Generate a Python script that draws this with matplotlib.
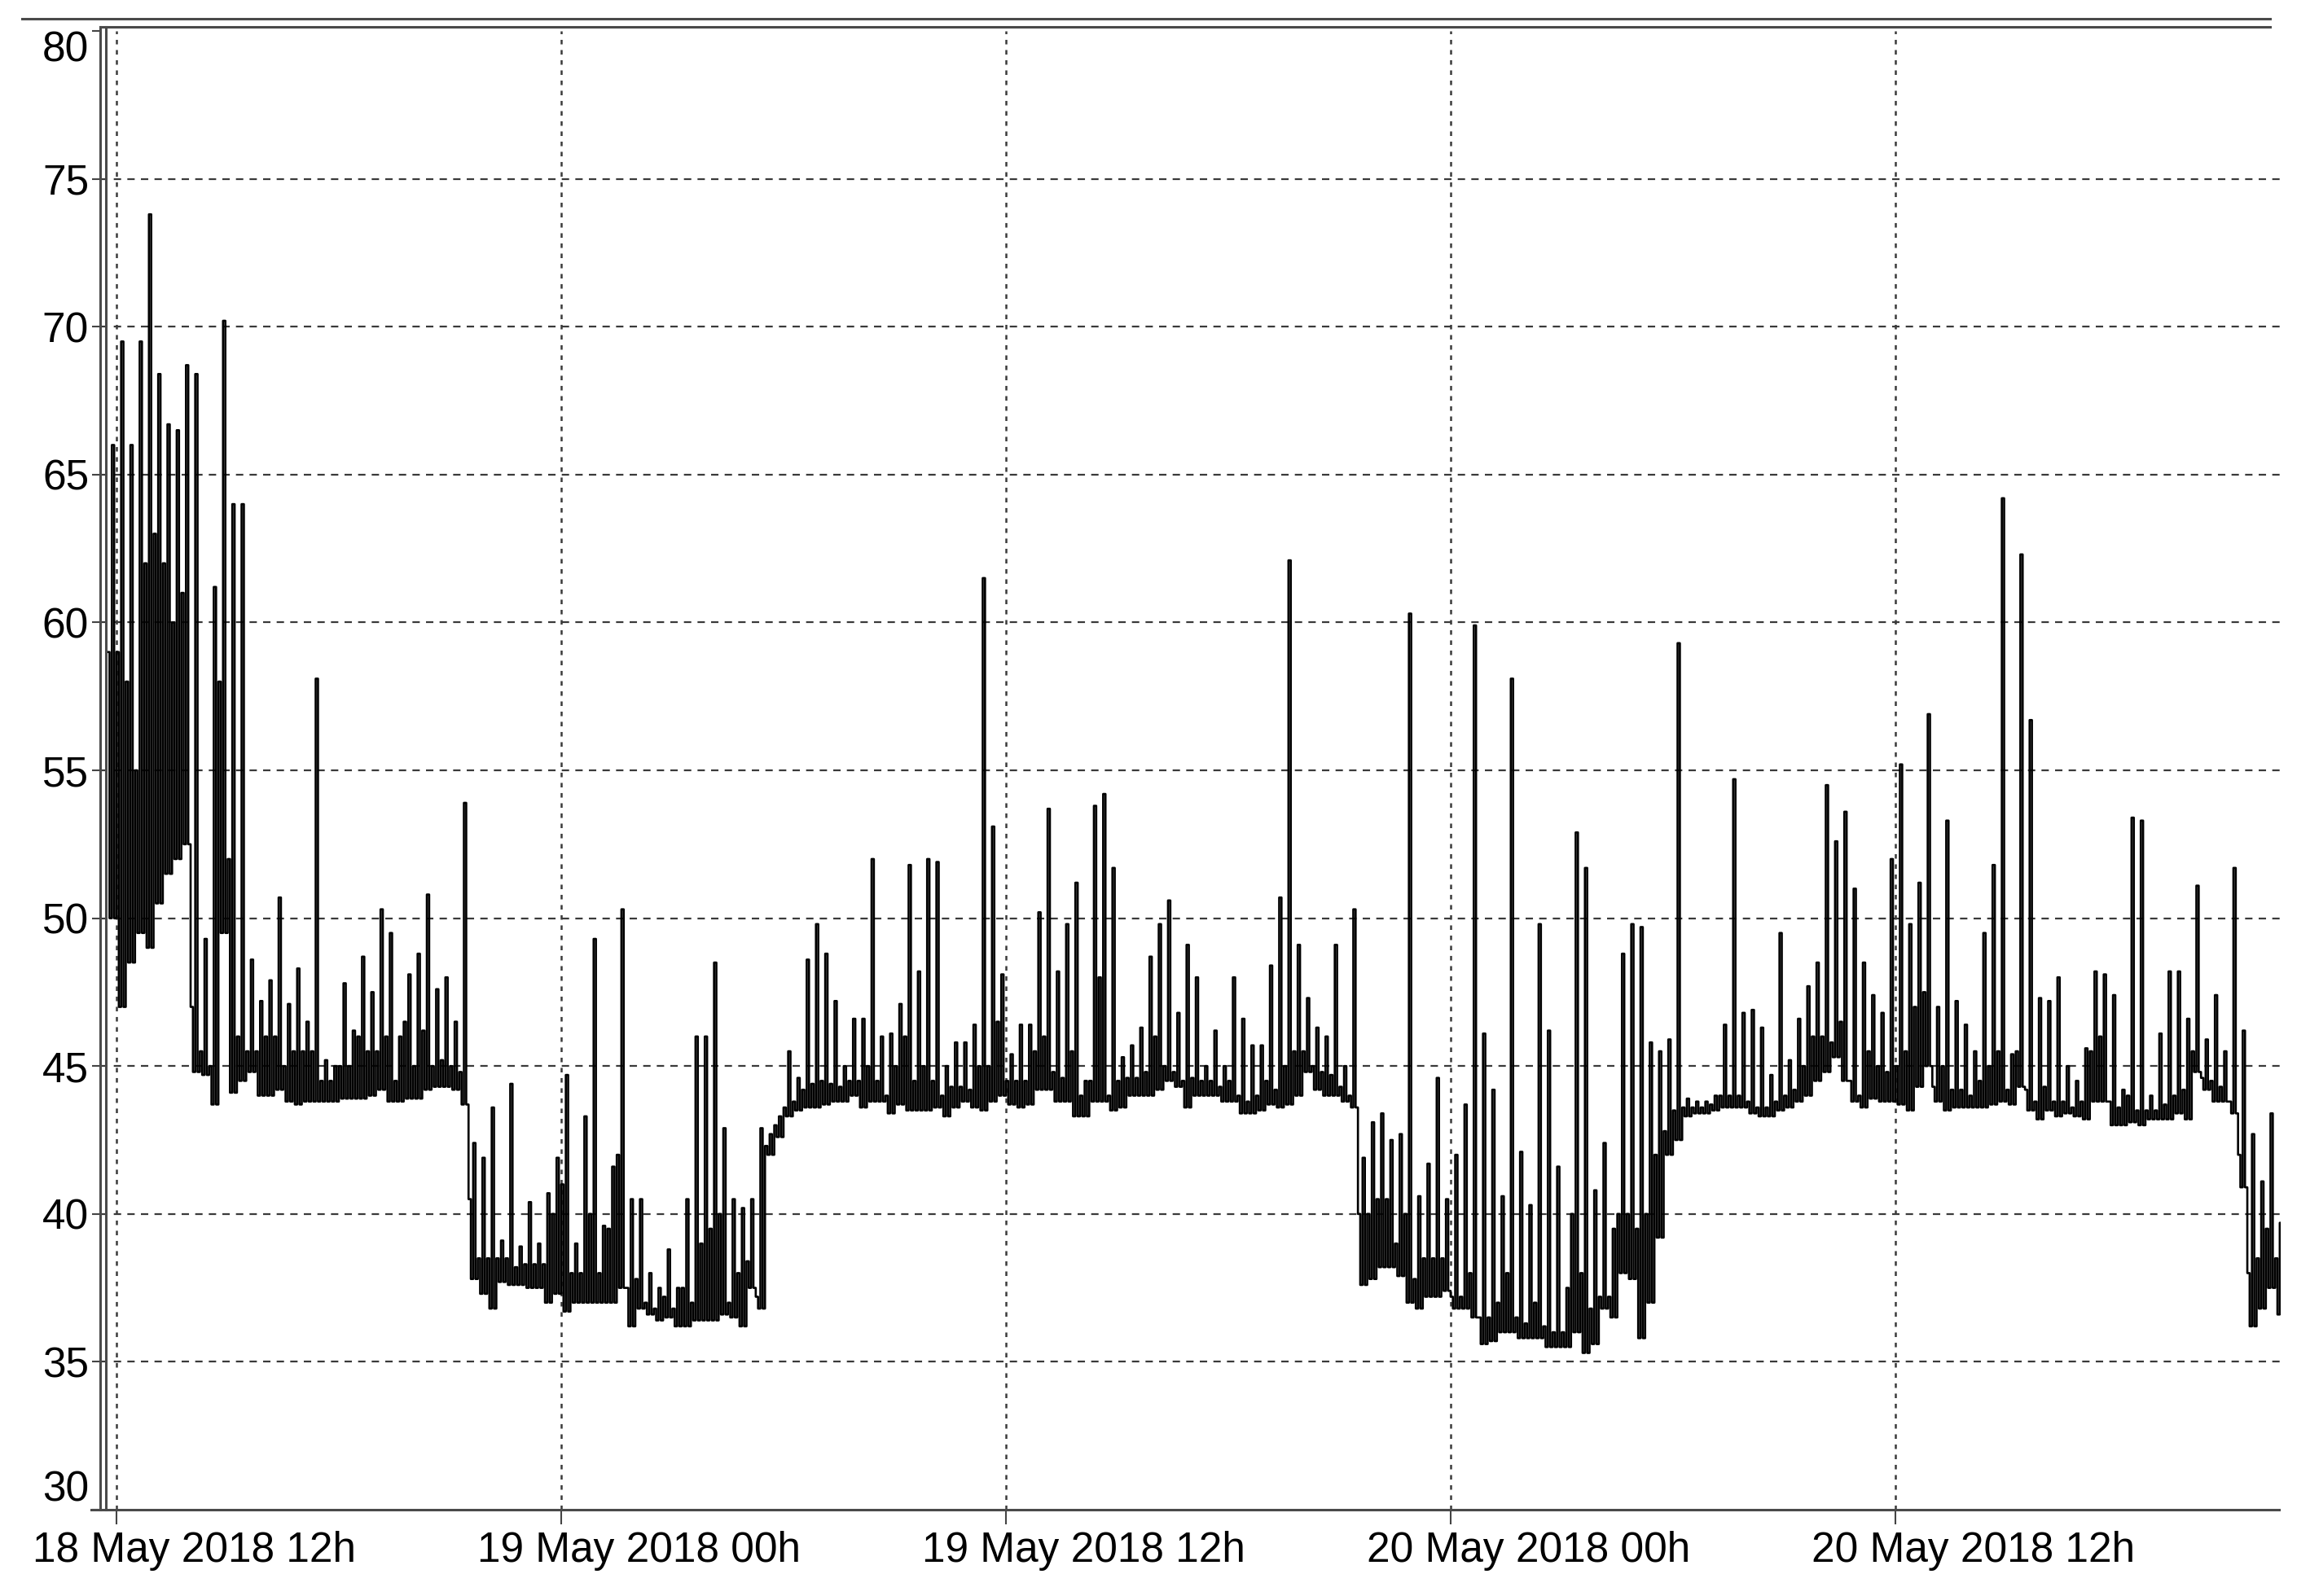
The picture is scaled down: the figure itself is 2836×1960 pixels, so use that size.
import numpy as np
import matplotlib
matplotlib.use("Agg")
import matplotlib.pyplot as plt
import matplotlib.transforms as mtransforms
from matplotlib.lines import Line2D

# ---------------------------------------------
# data: sound level, per 15 min bin
# time = hours after 18 May 2018 00:00, first bin starts 11:45
# each bin keeps the lower edge, the dense band level and the peak
# ---------------------------------------------
first_bin_hour = 11.75
bin_hours = 0.25

low_level = [
    50, 47, 48.5, 49.5, 49, 50.5, 51.5, 52, 52.5,
    44.8, 44.7, 43.7, 49.5, 44.1, 44.5, 44.8, 44, 44, 44.2, 43.8, 43.7,
    43.8, 43.8, 43.8, 43.8, 43.9, 43.9, 43.9, 44, 44.2, 43.8, 43.8, 43.9,
    43.9, 44.2, 44.3, 44.3, 44.2, 43.7, 37.8, 37.3,
    36.8, 37.7, 37.6, 37.6, 37.5, 37.5, 37, 37.3,
    36.7, 37, 37, 37, 37, 37, 37.5, 36.2, 36.8, 36.6, 36.4, 36.5,
    36.2, 36.2, 36.4, 36.4, 36.4, 36.6, 36.5, 36.2, 37.5, 36.8, 42, 42.6,
    43.3, 43.5, 43.6, 43.6, 43.7, 43.8, 43.8, 44,
    43.6, 43.8, 43.8, 43.4, 43.7, 43.5, 43.5, 43.5, 43.6, 43.3, 43.6, 43.8,
    43.6, 43.5, 43.8, 44, 43.7, 43.6, 43.7, 44.2, 44.2, 43.8, 43.8, 43.3,
    43.3, 43.8, 43.8, 43.5, 43.6, 44, 44, 44, 44.2, 44.5, 44.3, 43.6,
    44, 44, 44, 43.8, 43.8, 43.4, 43.4, 43.5,
    43.7, 43.6, 43.7, 44, 44.8, 44.2, 44, 44, 43.8, 43.6, 37.6, 37.8,
    38.2, 38.2, 37.9, 37, 36.8, 37.2, 37.2, 37.4,
    36.8, 36.8, 36.5, 35.6, 35.7, 36, 36, 35.8, 35.8, 35.8, 35.5, 35.5,
    35.5, 36, 35.3, 35.6, 36.8, 36.5, 38, 37.8, 35.8, 37, 39.2, 42,
    42.5, 43.3, 43.4, 43.4, 43.5, 43.6, 43.6, 43.6,
    43.4, 43.3, 43.3, 43.5, 43.6, 43.8, 44, 44.5, 44.8, 45.3, 44.5, 43.8,
    43.6, 43.9, 43.8, 43.8, 43.7, 43.5, 44.3, 45, 43.8, 43.5, 43.6, 43.6,
    43.6, 43.6, 43.7, 43.8, 43.7, 44.3, 43.5, 43.2,
    43.5, 43.3, 43.4, 43.3, 43.2, 43.8, 43.8, 43, 43, 43.1, 43, 43.2,
    43.2, 43.2, 43.4, 43.2, 44.8, 44.2, 43.8, 43.8, 43.4, 40.9, 36.2, 36.8,
    37.5, 36.6,
]

band_level = [
    59, 59, 58, 55, 62, 63, 62, 60, 61,
    47, 45.5, 45, 58, 52, 46, 45.5, 45.5, 46, 46, 45, 45.5,
    45.5, 45.5, 44.5, 44.5, 45, 45, 46, 45.5, 45.5, 46, 44.5, 46.5,
    45, 46.2, 45, 45.2, 45, 44.8, 40.5, 38.5,
    38.5, 38.5, 38.5, 38.2, 38.3, 38.3, 38.3, 40,
    41, 38, 38, 40, 38, 39.5, 42, 37.5, 37.8, 37, 36.8, 37.2,
    36.8, 37.5, 37, 39, 39.5, 40, 37, 38, 38.4, 37.2, 42.3, 43,
    43.6, 43.8, 44.2, 44.4, 44.5, 44.4, 44.3, 44.5,
    44.5, 45, 44.5, 44, 45, 46, 44.5, 45, 44.5, 44, 44.3, 44.3,
    44.2, 45, 45, 46.5, 44.5, 44.5, 44.5, 45.5, 46, 44.8, 44.6, 45.5,
    44, 44.5, 48, 44, 44.5, 44.6, 44.6, 44.8, 46, 45, 44.8, 44.5,
    44.6, 44.5, 44.5, 44.3, 44.5, 44, 43.8, 44,
    44.5, 44.2, 45, 45.5, 45.5, 45, 44.8, 44.7, 44.3, 44, 40, 40,
    40.5, 40.5, 39, 40, 37.8, 38.5, 38.5, 38.5,
    37.2, 37.2, 38, 36.5, 36.5, 37, 38, 36.5, 36.3, 37, 36.2, 36,
    36, 40, 38, 36.8, 37.2, 37.2, 40, 40, 39.5, 40, 42, 42.8,
    43.5, 43.6, 43.6, 43.6, 43.7, 44, 44, 44,
    43.8, 43.6, 43.6, 43.8, 44, 44.2, 45, 46, 46, 45.8, 46.5, 44.5,
    44, 45.5, 45, 44.8, 45, 45.5, 47, 47.5, 44.3, 45, 44.2, 44.2,
    44, 44.5, 45, 45.5, 44.2, 45.5, 44.2, 43.8,
    44.3, 43.8, 43.8, 43.6, 43.8, 45.5, 46, 43.8, 43.6, 44, 43.5, 43.5,
    43.5, 43.7, 44, 44.2, 45.5, 44.6, 44.5, 44.3, 43.8, 42, 38, 38.5,
    39.5, 38.5,
]

peak_level = [
    66, 69.5, 66, 69.5, 73.8, 68.4, 66.7, 66.5, 68.7,
    68.4, 49.3, 61.2, 70.2, 64, 64, 48.6, 47.2, 47.9, 50.7, 47.1, 48.3,
    46.5, 58.1, 45.2, 45, 47.8, 46.2, 48.7, 47.5, 50.3, 49.5, 46, 48.1,
    48.8, 50.8, 47.6, 48, 46.5, 53.9, 42.4, 41.9,
    43.6, 39.1, 44.4, 38.9, 40.4, 39, 40.7, 41.9,
    44.7, 39, 43.3, 49.3, 39.6, 41.6, 50.3, 40.5, 40.5, 38, 37.5, 38.8,
    37.5, 40.5, 46, 46, 48.5, 42.9, 40.5, 40.2, 40.5, 42.9, 42.7, 43.3,
    45.5, 44.6, 48.6, 49.8, 48.8, 47.2, 45, 46.6,
    46.6, 52, 46, 46.1, 47.1, 51.8, 48.2, 52, 51.9, 45, 45.8, 45.8,
    46.4, 61.5, 53.1, 48.1, 45.4, 46.4, 46.4, 50.2, 53.7, 48.2, 49.8, 51.2,
    44.5, 53.8, 54.2, 51.7, 45.3, 45.7, 46.3, 48.7, 49.8, 50.6, 46.8, 49.1,
    48, 45, 46.2, 45, 48, 46.6, 45.7, 45.7,
    48.4, 50.7, 62.1, 49.1, 47.3, 46.3, 46, 49.1, 45, 50.3, 41.9, 43.1,
    43.4, 42.5, 42.7, 60.3, 40.6, 41.7, 44.6, 40.5,
    42, 43.7, 59.9, 46.1, 44.2, 40.6, 58.1, 42.1, 40.3, 49.8, 46.2, 41.6,
    37.5, 52.9, 51.7, 40.8, 42.4, 39.5, 48.8, 49.8, 49.7, 45.8, 45.5, 45.9,
    59.3, 43.9, 43.8, 43.8, 44, 46.4, 54.7, 46.8,
    46.9, 46.3, 44.7, 49.5, 45.2, 46.6, 47.7, 48.5, 54.5, 52.6, 53.6, 51,
    48.5, 47.4, 46.8, 52, 55.2, 49.8, 51.2, 56.9, 47, 53.3, 47.2, 46.4,
    45.5, 49.5, 51.8, 64.2, 45.4, 62.3, 56.7, 47.3,
    47.2, 48, 45, 44.5, 45.6, 48.2, 48.1, 47.4, 44.2, 53.4, 53.3, 44,
    46.1, 48.2, 48.2, 46.6, 51.1, 45.9, 47.4, 45.5, 51.7, 46.2, 42.7, 41.1,
    43.4, 39.7,
]

tick_hours = [12, 24, 36, 48, 60]
tick_labels = ["18 May 2018 12h", "19 May 2018 00h", "19 May 2018 12h",
               "20 May 2018 00h", "20 May 2018 12h"]
y_ticks = [30, 35, 40, 45, 50, 55, 60, 65, 70, 75, 80]

assert len(low_level) == len(band_level) == len(peak_level) == 235

# each 15 min bin is drawn as four steps: band, low, peak, low
sub_t = []
sub_v = []
for i in range(len(low_level)):
    t0 = first_bin_hour + i * bin_hours
    for k, v in enumerate([band_level[i], low_level[i], peak_level[i], low_level[i]]):
        sub_t.append(t0 + k * bin_hours / 4)
        sub_v.append(v)
sub_t.append(first_bin_hour + len(low_level) * bin_hours)
sub_v.append(low_level[-1])

plt.rcParams["font.family"] = ["Liberation Sans", "DejaVu Sans"]
plt.rcParams["lines.scale_dashes"] = False
label_size = 37

W, H = 2836, 1960
fig = plt.figure(figsize=(W / 100, H / 100), dpi=100)
ax = fig.add_axes([123 / W, 1 - 1854 / H, (2800 - 123) / W, (1854 - 38) / H])

grid_col = "#3a3a3a"
for y in y_ticks[1:-1]:
    ax.axhline(y, color=grid_col, lw=1.6, ls=(0, (6.5, 5.5)), zorder=1)
for t in tick_hours:
    ax.axvline(t, color=grid_col, lw=1.8, ls=(0, (4, 5)), zorder=1)

ax.plot(sub_t, sub_v, drawstyle="steps-post", color="black", lw=1.9, zorder=3)

ax.set_xlim(11.56, 70.4)
ax.set_ylim(30, 80)
for s in ax.spines.values():
    s.set_visible(False)

ax.set_yticks(y_ticks)
ax.set_yticklabels([str(v) for v in y_ticks])
ax.tick_params(axis="y", direction="out", length=7, width=1.5, color="#444444",
               pad=3, labelsize=label_size)
ax.set_xticks(tick_hours)
ax.set_xticklabels(tick_labels)
ax.tick_params(axis="x", direction="out", length=13, width=1.5, color="#444444",
               pad=6, labelsize=label_size)

ylabs = ax.get_yticklabels()
ylabs[-1].set_verticalalignment("top")
ylabs[0].set_verticalalignment("bottom")

shift = mtransforms.ScaledTranslation(-1.03, 0, fig.dpi_scale_trans)
for lab in ax.get_xticklabels():
    lab.set_horizontalalignment("left")
    lab.set_transform(lab.get_transform() + shift)


# frame lines, drawn in pixel positions of the figure
def frame_line(x0, y0, x1, y1):
    fig.add_artist(Line2D([x0 / W, x1 / W], [1 - y0 / H, 1 - y1 / H],
                          transform=fig.transFigure, color="#4a4a4a", lw=2.2))


frame_line(123, 33, 123, 1854)
frame_line(130, 33, 130, 1854)
frame_line(123, 33, 2787, 33)
frame_line(27, 23, 2787, 23)
frame_line(112, 1854, 2798, 1854)

fig.savefig("out.png", dpi=100, facecolor="white")
